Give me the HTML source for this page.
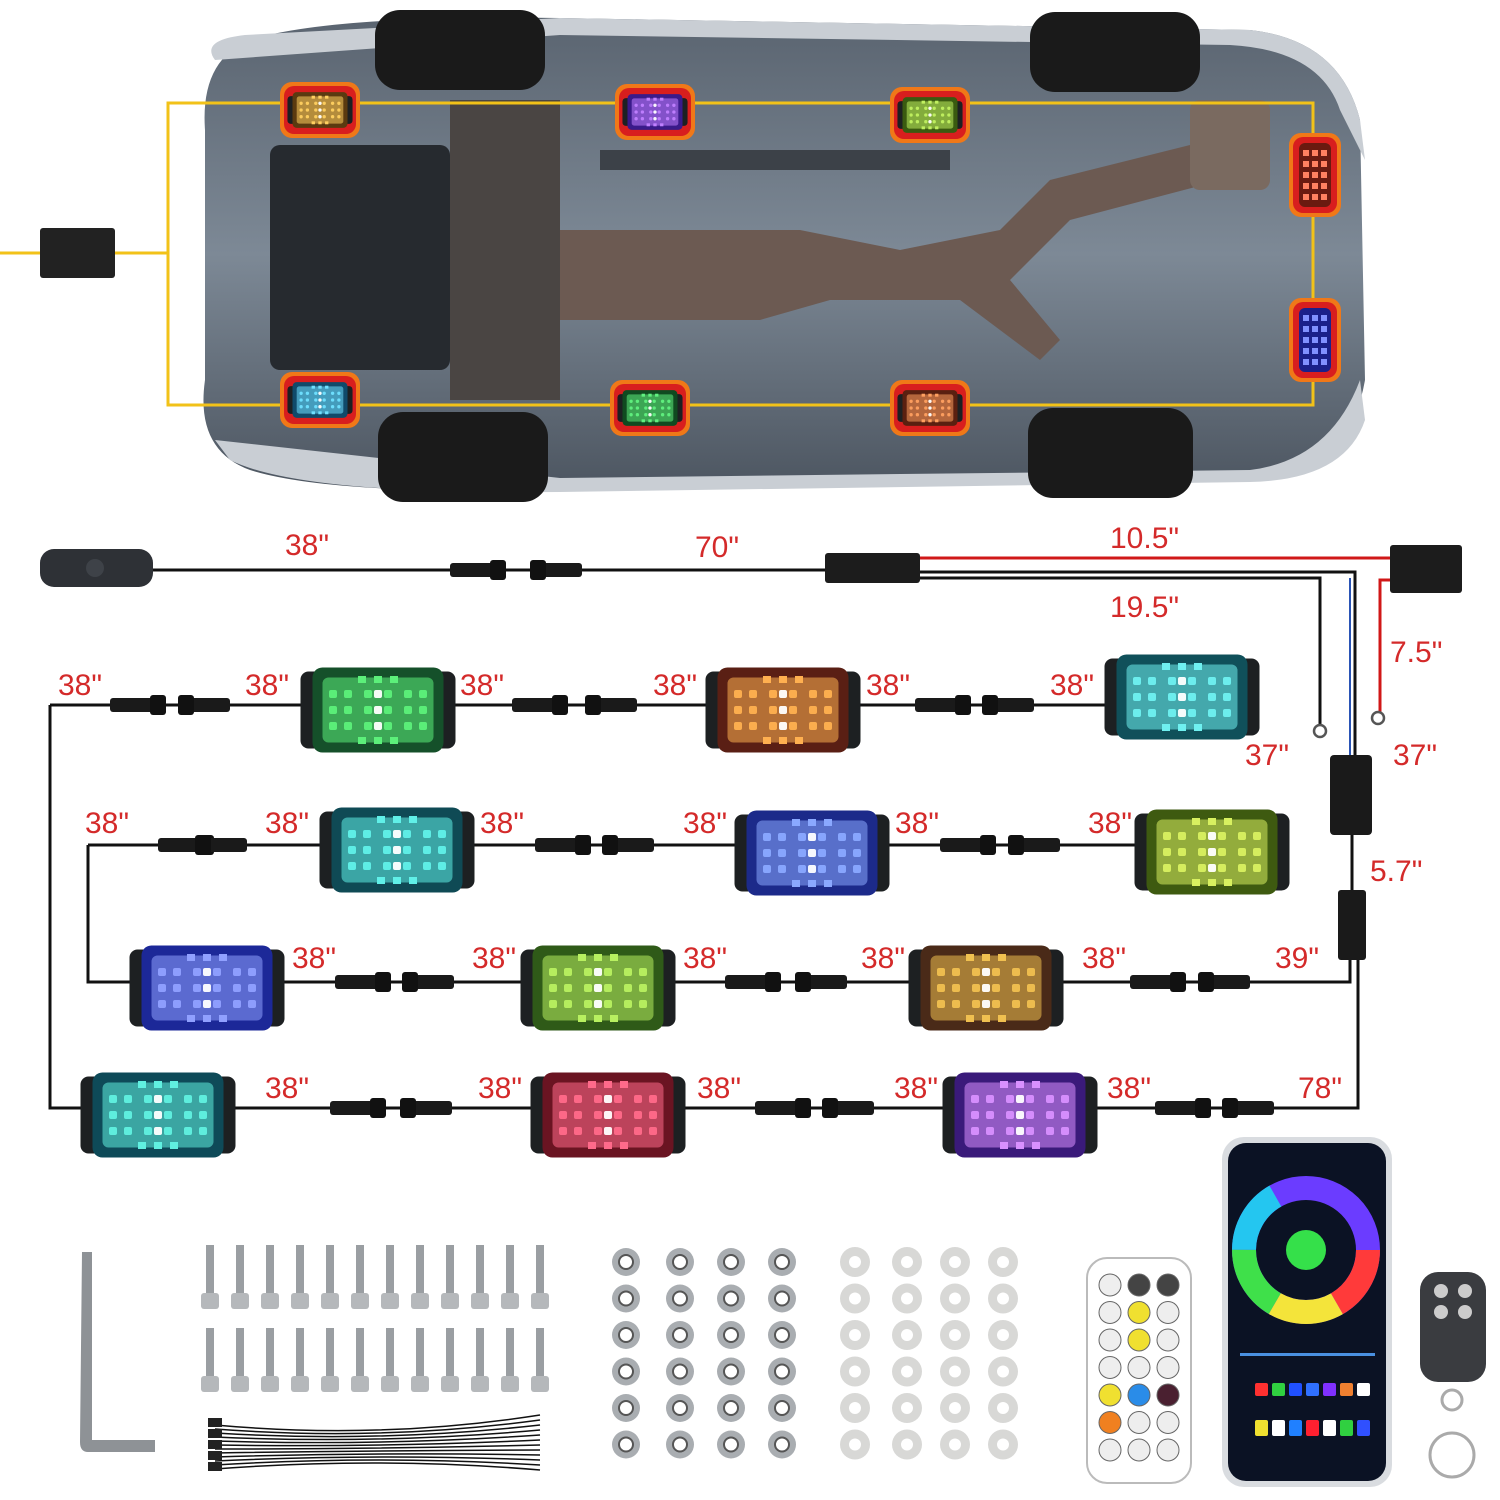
<!DOCTYPE html>
<html><head><meta charset="utf-8"><style>
html,body{margin:0;padding:0;background:#fff}
svg{display:block}
text{font-family:"Liberation Sans",sans-serif}
</style></head><body>
<svg id="s" width="1500" height="1500" viewBox="0 0 1500 1500" xmlns="http://www.w3.org/2000/svg">
<defs>
<linearGradient id="car" x1="0" y1="0" x2="0" y2="1"><stop offset="0" stop-color="#5a6470"/><stop offset="0.5" stop-color="#7d8996"/><stop offset="1" stop-color="#4c5560"/></linearGradient>
</defs>
<!-- car -->
<path d="M250 40 Q330 15 560 18 L1250 30 Q1340 40 1360 120 L1365 380 Q1350 470 1250 480 L560 490 Q330 495 250 470 Q195 450 205 380 L205 130 Q200 60 250 40Z" fill="url(#car)"/>
<path d="M215 60 Q200 40 245 35 L560 18 L1250 30 Q1340 40 1360 120 L1365 160 L1340 110 Q1320 50 1230 45 L560 35Z" fill="#c9ced4"/>
<path d="M215 440 L560 478 L1250 470 Q1330 460 1360 380 L1365 420 Q1345 480 1250 482 L560 492 Q300 495 230 460Z" fill="#c9ced4"/>
<rect x="375" y="10" width="170" height="80" rx="25" fill="#1a1a1a"/>
<rect x="1030" y="12" width="170" height="80" rx="25" fill="#1a1a1a"/>
<rect x="378" y="412" width="170" height="90" rx="25" fill="#1a1a1a"/>
<rect x="1028" y="408" width="165" height="90" rx="25" fill="#1a1a1a"/>
<rect x="270" y="145" width="180" height="225" rx="10" fill="#262a2f"/>
<rect x="450" y="100" width="110" height="300" fill="#4a4543"/>
<path d="M560 230 L800 230 L900 250 L1000 230 L1050 180 L1250 130 L1260 170 L1070 220 L1010 280 L1060 340 L1040 360 L960 300 L830 300 L760 320 L560 320Z" fill="#6c5a52"/>
<rect x="1190" y="100" width="80" height="90" rx="10" fill="#7a6a60"/>
<rect x="600" y="150" width="350" height="20" fill="#3c4148"/>
<!-- yellow loop -->
<g fill="none" stroke="#f2c218" stroke-width="3">
<path d="M168 103 L1313 103 L1313 405 L168 405 Z"/>
<path d="M0 253 L168 253"/>
</g>
<rect x="40" y="228" width="75" height="50" rx="3" fill="#222"/>
<g id="carpods"></g>
<!-- wiring -->
<g fill="none" stroke="#111" stroke-width="3">
<path d="M150 570 L830 570"/>
<path d="M920 572 L1355 572 L1355 755"/>
<path d="M920 578 L1320 578 L1320 725"/>
<path d="M50 705 L1110 705"/>
<path d="M50 705 L50 1108 L1358 1108 L1358 960"/>
<path d="M88 845 L1140 845"/>
<path d="M88 845 L88 982 L1350 982 L1350 955"/>
<path d="M1352 835 L1352 890"/>
</g>
<path d="M1350 578 L1350 755" stroke="#2a54b5" stroke-width="2"/>
<path d="M920 558 L1395 558" stroke="#d01818" stroke-width="3" fill="none"/>
<path d="M1395 580 L1380 580 L1380 712" stroke="#d01818" stroke-width="3" fill="none"/>
<circle cx="1320" cy="731" r="6" fill="none" stroke="#555" stroke-width="2.5"/>
<circle cx="1378" cy="718" r="6" fill="none" stroke="#555" stroke-width="2.5"/>
<rect x="40" y="549" width="113" height="38" rx="14" fill="#2e3136"/>
<circle cx="95" cy="568" r="9" fill="#3e4248"/>
<rect x="825" y="553" width="95" height="30" rx="3" fill="#1c1c1c"/>
<rect x="1390" y="545" width="72" height="48" rx="3" fill="#1c1c1c"/>
<rect x="1330" y="755" width="42" height="80" rx="4" fill="#1a1a1a"/>
<rect x="1338" y="890" width="28" height="70" rx="3" fill="#1a1a1a"/>
<g id="conns"></g>
<g id="pods"></g>
<g id="labels" fill="#d42a2a" font-size="30"></g>
<!-- accessories -->
<path d="M82 1252 L92 1252 L92 1440 L155 1440 L155 1452 L88 1452 Q80 1452 80 1442Z" fill="#8e9296"/>
<g id="acc"></g>
<!-- remote -->
<rect x="1087" y="1258" width="104" height="225" rx="20" fill="#fff" stroke="#bbb" stroke-width="2"/>
<g id="rbtn"></g>
<!-- phone -->
<rect x="1222" y="1137" width="170" height="350" rx="22" fill="#d9dce0"/>
<rect x="1228" y="1143" width="158" height="338" rx="18" fill="#0b1224"/>
<circle cx="1306" cy="1250" r="62" fill="none" stroke="#6b3cff" stroke-width="24"/>
<circle cx="1306" cy="1250" r="62" fill="none" stroke="#ff3a3a" stroke-width="24" stroke-dasharray="65 325"/>
<circle cx="1306" cy="1250" r="62" fill="none" stroke="#3fe04a" stroke-width="24" stroke-dasharray="65 325" stroke-dashoffset="-130"/>
<circle cx="1306" cy="1250" r="62" fill="none" stroke="#f4e43a" stroke-width="24" stroke-dasharray="65 325" stroke-dashoffset="-65"/>
<circle cx="1306" cy="1250" r="62" fill="none" stroke="#24c6f0" stroke-width="24" stroke-dasharray="65 325" stroke-dashoffset="-195"/>
<circle cx="1306" cy="1250" r="20" fill="#35e04a"/>
<g id="ph"></g>
<!-- fob -->
<rect x="1420" y="1272" width="66" height="110" rx="18" fill="#3a3c40"/>
<circle cx="1441" cy="1291" r="7" fill="#ccc"/><circle cx="1465" cy="1291" r="7" fill="#ccc"/>
<circle cx="1441" cy="1312" r="7" fill="#ccc"/><circle cx="1465" cy="1312" r="7" fill="#ccc"/>
<circle cx="1452" cy="1400" r="10" fill="none" stroke="#aaa" stroke-width="3"/>
<circle cx="1452" cy="1455" r="22" fill="none" stroke="#aaa" stroke-width="3"/>
</svg>
<script>
var NS="http://www.w3.org/2000/svg";
function el(p,t,a,tx){var e=document.createElementNS(NS,t);for(var k in a)e.setAttribute(k,a[k]);if(tx)e.textContent=tx;document.getElementById(p).appendChild(e);return e;}
function pod(g,cx,cy,c1,c2,sc){sc=sc||1;var w=155*sc,h=85*sc;
 el(g,'rect',{x:cx-w/2,y:cy-h/2+4,width:w,height:h-8,rx:8*sc,fill:'#1d2022'});
 el(g,'rect',{x:cx-w/2+12*sc,y:cy-h/2,width:w-24*sc,height:h,rx:10*sc,fill:c2});
 el(g,'rect',{x:cx-w/2+22*sc,y:cy-h/2+10*sc,width:w-44*sc,height:h-20*sc,rx:6*sc,fill:c1,opacity:.55});
 var cols=[-45,-30,-10,0,10,30,45];
 for(var i=0;i<7;i++)for(var j=-1;j<=1;j++)el(g,'rect',{x:cx+cols[i]*sc-4*sc,y:cy+j*16*sc-4*sc,width:8*sc,height:8*sc,rx:2,fill:i==3?'#fff':c1,opacity:.95});
 for(var i=-1;i<=1;i++){el(g,'rect',{x:cx+i*16*sc-4*sc,y:cy-34*sc,width:8*sc,height:7*sc,fill:c1});el(g,'rect',{x:cx+i*16*sc-4*sc,y:cy+27*sc,width:8*sc,height:7*sc,fill:c1});}
}
var P=[[378,710,'#5cf07a','#15502a'],[783,710,'#ffb050','#5a1f14'],[1182,697,'#6ff0f0','#10505a'],
[397,850,'#60f0e8','#0f4a55'],[812,853,'#8aa8ff','#1c2a8a'],[1212,852,'#d8f060','#3e5a10'],
[207,988,'#90a0ff','#1c2898'],[598,988,'#b8f060','#2f5a18'],[986,988,'#f0c050','#4a2a18'],
[158,1115,'#60f0e0','#0e4a58'],[608,1115,'#ff6a8a','#6a1422'],[1020,1115,'#d890ff','#3a1a7a']];
P.forEach(function(p){pod('pods',p[0],p[1],p[2],p[3]);});
var CP=[[320,110,'#ffd060','#5a3a10'],[655,112,'#c080ff','#3a1a8a'],[930,115,'#c0f060','#3a5a10'],[320,400,'#70e0ff','#104a6a'],[650,408,'#60f080','#104a20'],[930,408,'#ffa060','#5a2010']];
CP.forEach(function(p){el('carpods','rect',{x:p[0]-40,y:p[1]-28,width:80,height:56,rx:12,fill:'#f07818'});el('carpods','rect',{x:p[0]-36,y:p[1]-24,width:72,height:48,rx:10,fill:'#d81e1e'});pod('carpods',p[0],p[1],p[2],p[3],0.42);});
[[1315,175,'#ff8060','#6a1a10'],[1315,340,'#8090ff','#1a208a']].forEach(function(p){el('carpods','rect',{x:p[0]-26,y:p[1]-42,width:52,height:84,rx:12,fill:'#f07818'});el('carpods','rect',{x:p[0]-22,y:p[1]-38,width:44,height:76,rx:10,fill:'#d81e1e'});el('carpods','rect',{x:p[0]-16,y:p[1]-32,width:32,height:64,rx:6,fill:p[3]});for(var i=-2;i<=2;i++)for(var j=-1;j<=1;j++)el('carpods','rect',{x:p[0]+j*9-3,y:p[1]+i*11-3,width:6,height:6,fill:p[2]});});
var C=[[450,570],[530,570],[110,705],[178,705],[512,705],[585,705],[915,705],[982,705],
[158,845],[195,845],[535,845],[602,845],[940,845],[1008,845],
[335,982],[402,982],[725,982],[795,982],[1130,982],[1198,982],
[330,1108],[400,1108],[755,1108],[822,1108],[1155,1108],[1222,1108]];
C.forEach(function(c,i){var left=i%2==0;el('conns','rect',{x:c[0],y:c[1]-7,width:52,height:14,rx:3,fill:'#1a1a1a'});el('conns','rect',{x:left?c[0]+40:c[0],y:c[1]-10,width:16,height:20,rx:3,fill:'#111'});});
var L=[[285,555,'38"'],[695,557,'70"'],[1110,548,'10.5"'],[1110,617,'19.5"'],[1390,662,'7.5"'],
[58,695,'38"'],[245,695,'38"'],[460,695,'38"'],[653,695,'38"'],[866,695,'38"'],[1050,695,'38"'],
[1245,765,'37"'],[1393,765,'37"'],[85,833,'38"'],[265,833,'38"'],[480,833,'38"'],[683,833,'38"'],[895,833,'38"'],[1088,833,'38"'],
[1370,881,'5.7"'],[292,968,'38"'],[472,968,'38"'],[683,968,'38"'],[861,968,'38"'],[1082,968,'38"'],[1275,968,'39"'],
[265,1098,'38"'],[478,1098,'38"'],[697,1098,'38"'],[894,1098,'38"'],[1107,1098,'38"'],[1298,1098,'78"']];
L.forEach(function(l){el('labels','text',{x:l[0],y:l[1]},l[2]);});
for(var r=0;r<2;r++)for(var i=0;i<12;i++){var x=210+i*30,y=1245+r*83;el('acc','rect',{x:x-4,y:y,width:8,height:50,fill:'#9a9ea2'});el('acc','rect',{x:x-9,y:y+48,width:18,height:16,rx:3,fill:'#b5b8bb'});}
for(var i=0;i<12;i++)el('acc','path',{d:'M215 '+(1425+i*4)+' Q380 '+(1440+i*1.5)+' 540 '+(1415+i*5),stroke:'#111','stroke-width':1.5,fill:'none'});
for(var i=0;i<5;i++)el('acc','rect',{x:208,y:1418+i*11,width:14,height:9,fill:'#222'});
for(var r=0;r<6;r++)for(var i=0;i<4;i++){var x=[626,680,731,782][i],y=1262+r*36.5;el('acc','circle',{cx:x,cy:y,r:14,fill:'#a9adb1'});el('acc','circle',{cx:x,cy:y,r:7,fill:'#fff',stroke:'#555','stroke-width':2});
var x2=[855,907,955,1003][i];el('acc','circle',{cx:x2,cy:y,r:15,fill:'#d8d8d6'});el('acc','circle',{cx:x2,cy:y,r:6,fill:'#fff'});}
var rb=['#eee','#444','#444','#eee','#f0e030','#eee','#eee','#f0e030','#eee','#eee','#eee','#eee','#f0e030','#2a8ce8','#4a2030','#f08020','#eee','#eee','#eee','#eee','#eee'];
for(var r=0;r<7;r++)for(var i=0;i<3;i++)el('rbtn','circle',{cx:1110+i*29,cy:1285+r*27.5,r:11,fill:rb[r*3+i],stroke:'#666','stroke-width':1});
var pc=['#ff3030','#30d040','#2050ff','#3070ff','#8030ff','#f08030','#fff'];
for(var i=0;i<7;i++){el('ph','rect',{x:1255+i*17,y:1383,width:13,height:13,rx:2,fill:pc[i]});el('ph','rect',{x:1255+i*17,y:1420,width:13,height:16,rx:2,fill:['#f0e030','#fff','#2080ff','#ff2030','#fff','#30d040','#3050ff'][i]});}
el('ph','rect',{x:1240,y:1353,width:135,height:3,fill:'#4a90e0'});
</script>
</body></html>
